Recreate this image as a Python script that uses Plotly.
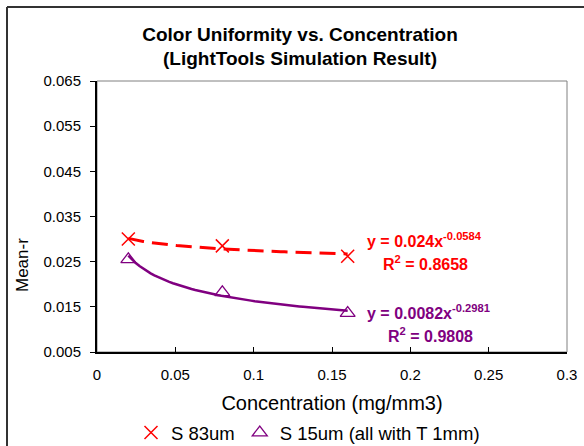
import numpy as np
import plotly.graph_objects as go

# ---- data ----
conc = [0.02, 0.08, 0.16]
s83_mean_r = [0.0300, 0.0285, 0.0262]
s15_mean_r = [0.0255, 0.0182, 0.0136]

# power-law trendline parameters shown on the chart: y = a * x^b
s83_fit = [0.024, -0.0584]
s15_fit = [0.0082, -0.2981]
s83_r2 = 0.8658
s15_r2 = 0.9808

x_ticks = [0, 0.05, 0.1, 0.15, 0.2, 0.25, 0.3]
y_ticks = [0.005, 0.015, 0.025, 0.035, 0.045, 0.055, 0.065]

RED = "#FF0000"
PURPLE = "#800080"
FONT = "Liberation Sans, Arial, sans-serif"

W, H = 584, 446
L, R, T, B = 97, 17, 81, 94
PW, PH = W - L - R, H - T - B

xs = np.linspace(min(conc), max(conc), 60)

fig = go.Figure()

# trendlines
fig.add_trace(go.Scatter(x=xs, y=s83_fit[0] * xs ** s83_fit[1], mode="lines",
                         line=dict(color=RED, width=3, dash="16px,8px"),
                         showlegend=False, hoverinfo="skip"))
fig.add_trace(go.Scatter(x=xs, y=s15_fit[0] * xs ** s15_fit[1], mode="lines",
                         line=dict(color=PURPLE, width=2.5),
                         showlegend=False, hoverinfo="skip"))

# data points
fig.add_trace(go.Scatter(x=conc, y=s83_mean_r, mode="markers", name="S 83um",
                         marker=dict(symbol="x-thin-open", size=13, color=RED,
                                     line=dict(color=RED, width=1.5))))
fig.add_trace(go.Scatter(x=conc, y=s15_mean_r, mode="markers",
                         name="S 15um (all with T 1mm)",
                         marker=dict(symbol="triangle-up-open", size=13, color=PURPLE,
                                     line=dict(color=PURPLE, width=1.3))))


def pxx(p):
    return (p - L) / PW


def pxy(p):
    return (H - B - p) / PH


ann_font = dict(family=FONT, size=16)
annotations = [
    dict(x=pxx(424), y=pxy(240),
         text=f"<b>y = {s83_fit[0]}x<sup>{s83_fit[1]}</sup></b>",
         font=dict(color=RED, **ann_font)),
    dict(x=pxx(425), y=pxy(263),
         text=f"<b>R<sup>2</sup> = {s83_r2}</b>",
         font=dict(color=RED, **ann_font)),
    dict(x=pxx(428), y=pxy(312),
         text=f"<b>y = {s15_fit[0]}x<sup>{s15_fit[1]}</sup></b>",
         font=dict(color=PURPLE, **ann_font)),
    dict(x=pxx(430), y=pxy(335),
         text=f"<b>R<sup>2</sup> = {s15_r2}</b>",
         font=dict(color=PURPLE, **ann_font)),
    dict(x=pxx(22), y=pxy(265),
         text="Mean-r", textangle=-90,
         font=dict(family=FONT, size=17, color="black")),
]
for a in annotations:
    a.update(xref="paper", yref="paper", showarrow=False,
             xanchor="center", yanchor="middle")

fig.update_layout(
    width=W, height=H,
    margin=dict(l=L, r=R, t=T, b=B, autoexpand=False),
    paper_bgcolor="white", plot_bgcolor="white",
    font=dict(family=FONT, color="black"),
    title=dict(text="<b>Color Uniformity vs. Concentration<br>(LightTools Simulation Result)</b>",
               x=300 / W, xanchor="center", xref="container",
               y=1 - 40.5 / H, yanchor="middle", yref="container",
               font=dict(family=FONT, size=19, color="black")),
    xaxis=dict(range=[0, 0.3], tickvals=x_ticks, ticktext=[f"{v:g}" for v in x_ticks],
               ticks="inside", ticklen=5, tickcolor="black",
               showline=True, linecolor="black", linewidth=2, showgrid=False, zeroline=False,
               tickfont=dict(size=15), ticklabelstandoff=8,
               title=dict(text="Concentration (mg/mm3)", font=dict(size=20), standoff=25)),
    yaxis=dict(range=[0.005, 0.065], tickvals=y_ticks, ticktext=[f"{v:.3f}" for v in y_ticks],
               ticks="outside", ticklen=5, tickcolor="black",
               showline=True, linecolor="black", linewidth=2, showgrid=False, zeroline=False,
               tickfont=dict(size=15), ticklabelstandoff=6),
    legend=dict(orientation="h", xref="container", yref="container",
                x=308 / W, xanchor="center", y=1 - 433 / H, yanchor="middle",
                font=dict(size=18.5), itemwidth=30, tracegroupgap=0,
                bgcolor="rgba(0,0,0,0)"),
    annotations=annotations,
    shapes=[
        dict(type="rect", xref="paper", yref="paper", x0=0, x1=1, y0=0, y1=1,
             line=dict(color="#808080", width=1), layer="below"),
        dict(type="line", xref="paper", yref="paper",
             x0=pxx(7), x1=pxx(7), y0=pxy(7), y1=pxy(460),
             line=dict(color="#333333", width=2), layer="above"),
        dict(type="line", xref="paper", yref="paper",
             x0=pxx(7), x1=pxx(600), y0=pxy(7), y1=pxy(7),
             line=dict(color="#333333", width=2), layer="above"),
    ],
)

fig.write_html("out.html", config={"displayModeBar": False},
               post_script="document.body.style.margin='0';document.body.style.overflow='hidden';")
